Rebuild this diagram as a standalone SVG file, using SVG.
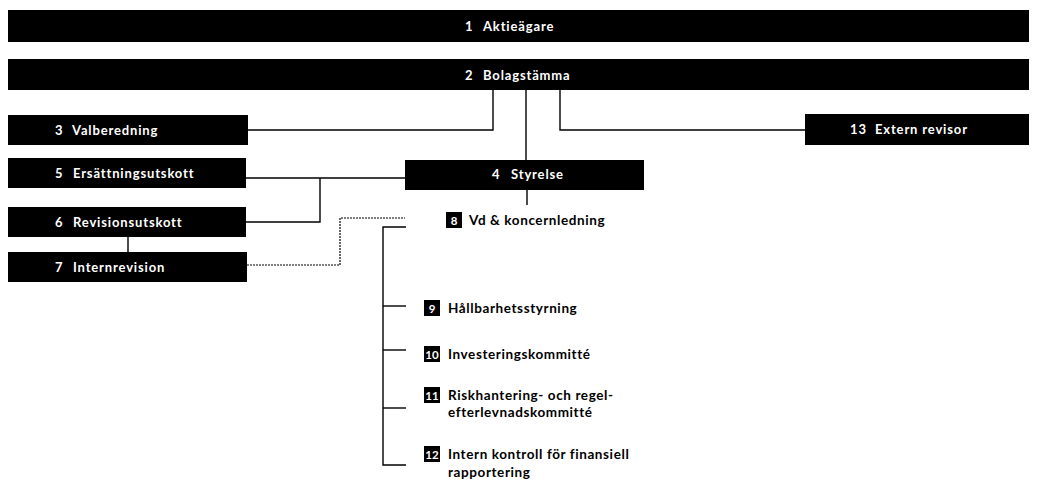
<svg xmlns="http://www.w3.org/2000/svg" width="1037" height="487" viewBox="0 0 1037 487">
<style>
.box{fill:#000}
.bt{font-family:Lato,"Liberation Sans",sans-serif;font-weight:bold;font-size:13px;letter-spacing:0.85px;fill:#fff}
.lt{font-family:Lato,"Liberation Sans",sans-serif;font-weight:bold;font-size:13.5px;letter-spacing:0.6px;fill:#000}
.badge{fill:#000}
.bn{font-family:Lato,"Liberation Sans",sans-serif;font-weight:bold;font-size:11.5px;fill:#fff}
.ln{fill:none;stroke:#000;stroke-width:1.4}
.dl{fill:none;stroke:#000;stroke-width:1.2;stroke-dasharray:2 1}
</style>
<rect width="1037" height="487" fill="#fff"/>
<g id="connectors">
<polyline class="ln" points="248,130 493,130 493,90"/>
<line class="ln" x1="526" y1="90" x2="526" y2="160"/>
<polyline class="ln" points="560,90 560,130 805,130"/>
<line class="ln" x1="246" y1="178" x2="405" y2="178"/>
<polyline class="ln" points="320,178 320,222 246,222"/>
<line class="ln" x1="128" y1="237" x2="128" y2="252"/>
<polyline class="dl" points="247,265 340,265 340,218 405,218"/>
<line class="ln" x1="527" y1="190" x2="527" y2="205"/>
<polyline class="ln" points="406,227 383,227 383,465 406,465"/>
<line class="ln" x1="383" y1="306" x2="406" y2="306"/>
<line class="ln" x1="383" y1="350" x2="406" y2="350"/>
<line class="ln" x1="383" y1="408" x2="406" y2="408"/>
</g>
<g id="n1"><rect class="box" x="8" y="10" width="1021" height="32"/><text class="bt" x="465" y="31">1<tspan x="483">Aktieägare</tspan></text></g>
<g id="n2"><rect class="box" x="8" y="59" width="1021" height="31"/><text class="bt" x="465" y="80">2<tspan x="483">Bolagstämma</tspan></text></g>
<g id="n3"><rect class="box" x="8" y="115" width="240" height="30"/><text class="bt" x="55" y="135">3<tspan x="72">Valberedning</tspan></text></g>
<g id="n13"><rect class="box" x="805" y="114" width="224" height="31"/><text class="bt" x="850" y="134">13<tspan x="875">Extern revisor</tspan></text></g>
<g id="n4"><rect class="box" x="405" y="160" width="239" height="30"/><text class="bt" x="492" y="179">4<tspan x="511">Styrelse</tspan></text></g>
<g id="n5"><rect class="box" x="8" y="158" width="238" height="30"/><text class="bt" x="55" y="178">5<tspan x="73">Ersättningsutskott</tspan></text></g>
<g id="n6"><rect class="box" x="8" y="207" width="238" height="30"/><text class="bt" x="55" y="227">6<tspan x="73">Revisionsutskott</tspan></text></g>
<g id="n7"><rect class="box" x="8" y="252" width="239" height="30"/><text class="bt" x="55" y="272">7<tspan x="73">Internrevision</tspan></text></g>
<g id="n8"><rect class="badge" x="446" y="212" width="16" height="16"/><text class="bn" x="454" y="224.5" text-anchor="middle">8</text><text class="lt" x="469" y="225">Vd &amp; koncernledning</text></g>
<g id="n9"><rect class="badge" x="424" y="300" width="16" height="16"/><text class="bn" x="432" y="312.5" text-anchor="middle">9</text><text class="lt" x="448" y="313">Hållbarhetsstyrning</text></g>
<g id="n10"><rect class="badge" x="424" y="346" width="16" height="16"/><text class="bn" x="432" y="358.5" text-anchor="middle">10</text><text class="lt" x="448" y="359">Investeringskommitté</text></g>
<g id="n11"><rect class="badge" x="424" y="387" width="16" height="16"/><text class="bn" x="432" y="399.5" text-anchor="middle">11</text><text class="lt" x="448" y="400">Riskhantering- och regel-</text><text class="lt" x="448" y="417">efterlevnadskommitté</text></g>
<g id="n12"><rect class="badge" x="424" y="446" width="16" height="16"/><text class="bn" x="432" y="458.5" text-anchor="middle">12</text><text class="lt" x="448" y="459">Intern kontroll för finansiell</text><text class="lt" x="448" y="477">rapportering</text></g>
</svg>
